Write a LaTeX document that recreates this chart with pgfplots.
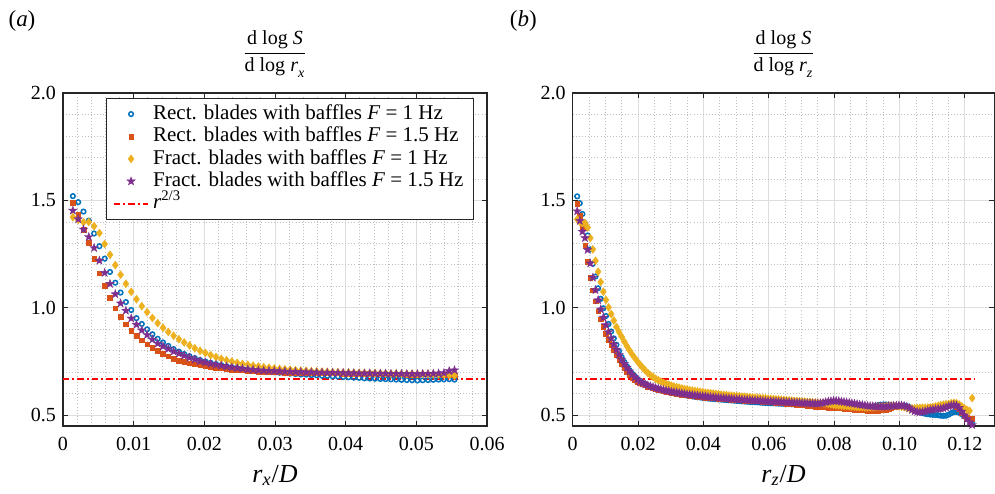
\documentclass[border=0pt]{standalone}
\usepackage{fontspec}
\setmainfont{Liberation Serif}
\usepackage{amsmath}
\usepackage{pgfplots}
\pgfplotsset{compat=1.18}
\usepackage{pgfplotstable}

\definecolor{mblue}{RGB}{0,114,189}
\definecolor{morange}{RGB}{217,83,25}
\definecolor{myellow}{RGB}{237,177,32}
\definecolor{mpurple}{RGB}{126,47,142}
\definecolor{axgray}{RGB}{38,38,38}
\definecolor{gridmaj}{RGB}{222,222,222}
\definecolor{gridmin}{RGB}{190,190,190}

\pgfdeclareplotmark{fstar}{%
  \pgfpathmoveto{\pgfqpointpolar{90}{\pgfplotmarksize}}%
  \pgfpathlineto{\pgfqpointpolar{126}{0.40\pgfplotmarksize}}%
  \pgfpathlineto{\pgfqpointpolar{162}{\pgfplotmarksize}}%
  \pgfpathlineto{\pgfqpointpolar{198}{0.40\pgfplotmarksize}}%
  \pgfpathlineto{\pgfqpointpolar{234}{\pgfplotmarksize}}%
  \pgfpathlineto{\pgfqpointpolar{270}{0.40\pgfplotmarksize}}%
  \pgfpathlineto{\pgfqpointpolar{306}{\pgfplotmarksize}}%
  \pgfpathlineto{\pgfqpointpolar{342}{0.40\pgfplotmarksize}}%
  \pgfpathlineto{\pgfqpointpolar{18}{\pgfplotmarksize}}%
  \pgfpathlineto{\pgfqpointpolar{54}{0.40\pgfplotmarksize}}%
  \pgfpathclose
  \pgfusepathqfillstroke
}

\pgfplotstableread{
x b o y p
0.0014 1.520 1.488 1.422 1.453
0.00215 1.492 1.434 1.409 1.413
0.0029 1.448 1.365 1.398 1.365
0.00365 1.406 1.302 1.400 1.330
0.0044 1.346 1.229 1.380 1.279
0.00515 1.287 1.162 1.348 1.220
0.0059 1.229 1.102 1.297 1.163
0.00665 1.167 1.046 1.247 1.112
0.0074 1.117 0.998 1.199 1.064
0.00815 1.071 0.958 1.154 1.021
0.0089 1.027 0.924 1.112 0.987
0.00965 0.990 0.894 1.075 0.951
0.0104 0.952 0.871 1.040 0.922
0.01115 0.925 0.849 1.008 0.896
0.0119 0.900 0.830 0.980 0.874
0.01265 0.877 0.815 0.953 0.853
0.0134 0.856 0.800 0.929 0.834
0.01415 0.839 0.786 0.907 0.821
0.0149 0.823 0.774 0.888 0.809
0.01565 0.808 0.763 0.870 0.797
0.0164 0.796 0.755 0.854 0.787
0.01715 0.785 0.748 0.839 0.777
0.0179 0.775 0.743 0.825 0.768
0.01865 0.766 0.738 0.812 0.760
0.0194 0.757 0.734 0.800 0.752
0.02015 0.750 0.730 0.790 0.746
0.0209 0.744 0.726 0.780 0.740
0.02165 0.738 0.722 0.771 0.735
0.0224 0.733 0.719 0.763 0.731
0.02315 0.728 0.716 0.756 0.727
0.0239 0.724 0.713 0.750 0.723
0.02465 0.720 0.711 0.744 0.720
0.0254 0.716 0.709 0.739 0.717
0.02615 0.712 0.707 0.735 0.714
0.0269 0.709 0.705 0.731 0.712
0.02765 0.706 0.704 0.727 0.710
0.0284 0.704 0.703 0.724 0.708
0.02915 0.702 0.702 0.721 0.707
0.0299 0.700 0.701 0.718 0.706
0.03065 0.698 0.700 0.716 0.705
0.0314 0.696 0.699 0.714 0.704
0.03215 0.694 0.699 0.712 0.703
0.0329 0.692 0.698 0.710 0.702
0.03365 0.690 0.698 0.708 0.701
0.0344 0.689 0.697 0.707 0.700
0.03515 0.687 0.697 0.705 0.700
0.0359 0.686 0.696 0.704 0.699
0.03665 0.684 0.696 0.703 0.699
0.0374 0.683 0.695 0.702 0.698
0.03815 0.681 0.695 0.701 0.698
0.0389 0.680 0.695 0.700 0.697
0.03965 0.678 0.694 0.699 0.697
0.0404 0.677 0.694 0.699 0.696
0.04115 0.675 0.694 0.698 0.696
0.0419 0.674 0.693 0.697 0.695
0.04265 0.672 0.693 0.697 0.695
0.0434 0.671 0.693 0.696 0.695
0.04415 0.670 0.692 0.696 0.694
0.0449 0.669 0.692 0.695 0.694
0.04565 0.668 0.692 0.695 0.694
0.0464 0.667 0.691 0.694 0.693
0.04715 0.666 0.691 0.694 0.693
0.0479 0.665 0.691 0.693 0.693
0.04865 0.664 0.690 0.693 0.692
0.0494 0.663 0.690 0.693 0.692
0.05015 0.662 0.690 0.692 0.692
0.0509 0.663 0.691 0.692 0.693
0.05165 0.664 0.692 0.692 0.693
0.0524 0.665 0.692 0.691 0.694
0.05315 0.666 0.691 0.691 0.695
0.0539 0.667 0.690 0.690 0.697
0.05465 0.668 0.688 0.688 0.706
0.0554 0.666 0.687 0.685 0.710
}\tabA

\pgfplotstableread{
x b o y p
0.0014 1.519 1.485 1.412 1.450
0.0022 1.487 1.429 1.401 1.405
0.0030 1.437 1.375 1.394 1.355
0.0038 1.392 1.288 1.395 1.325
0.0046 1.337 1.214 1.374 1.270
0.0054 1.272 1.141 1.325 1.207
0.0062 1.205 1.083 1.272 1.141
0.0070 1.146 1.031 1.219 1.083
0.0078 1.091 0.985 1.168 1.036
0.0086 1.042 0.947 1.120 0.993
0.0094 0.998 0.913 1.075 0.955
0.0102 0.962 0.880 1.037 0.920
0.0110 0.925 0.851 1.002 0.888
0.0118 0.890 0.828 0.971 0.858
0.0126 0.858 0.804 0.941 0.830
0.0134 0.828 0.780 0.911 0.806
0.0142 0.798 0.758 0.888 0.782
0.0150 0.771 0.738 0.866 0.760
0.0158 0.748 0.720 0.843 0.740
0.0166 0.728 0.703 0.822 0.722
0.0174 0.710 0.688 0.802 0.705
0.0182 0.694 0.676 0.784 0.690
0.0190 0.681 0.666 0.767 0.677
0.0198 0.669 0.657 0.751 0.666
0.0206 0.659 0.650 0.736 0.657
0.0214 0.651 0.644 0.722 0.650
0.0222 0.644 0.639 0.709 0.644
0.0230 0.638 0.634 0.697 0.639
0.0238 0.633 0.630 0.687 0.635
0.0246 0.628 0.626 0.678 0.631
0.0254 0.624 0.622 0.670 0.627
0.0262 0.620 0.619 0.663 0.624
0.0270 0.617 0.616 0.657 0.621
0.0278 0.614 0.613 0.651 0.618
0.0286 0.611 0.610 0.646 0.615
0.0294 0.608 0.608 0.642 0.613
0.0302 0.605 0.605 0.638 0.610
0.0310 0.603 0.603 0.634 0.608
0.0318 0.600 0.601 0.631 0.606
0.0326 0.598 0.599 0.628 0.604
0.0334 0.596 0.597 0.625 0.602
0.0342 0.594 0.595 0.622 0.600
0.0350 0.592 0.593 0.620 0.598
0.0358 0.590 0.592 0.617 0.596
0.0366 0.588 0.590 0.615 0.595
0.0374 0.586 0.589 0.613 0.593
0.0382 0.584 0.587 0.611 0.592
0.0390 0.583 0.586 0.609 0.590
0.0398 0.581 0.585 0.607 0.589
0.0406 0.580 0.583 0.605 0.588
0.0414 0.578 0.582 0.604 0.586
0.0422 0.577 0.581 0.602 0.585
0.0430 0.576 0.580 0.601 0.584
0.0438 0.575 0.579 0.599 0.583
0.0446 0.574 0.578 0.598 0.582
0.0454 0.573 0.577 0.596 0.581
0.0462 0.572 0.576 0.595 0.580
0.0470 0.571 0.575 0.594 0.579
0.0478 0.570 0.574 0.592 0.578
0.0486 0.569 0.573 0.591 0.577
0.0494 0.568 0.572 0.590 0.576
0.0502 0.567 0.572 0.589 0.575
0.0510 0.566 0.571 0.588 0.574
0.0518 0.565 0.570 0.587 0.573
0.0526 0.564 0.569 0.586 0.572
0.0534 0.563 0.568 0.585 0.572
0.0542 0.562 0.568 0.584 0.571
0.0550 0.561 0.567 0.583 0.570
0.0558 0.561 0.566 0.582 0.569
0.0566 0.560 0.566 0.581 0.569
0.0574 0.559 0.565 0.580 0.568
0.0582 0.558 0.564 0.579 0.567
0.0590 0.557 0.563 0.578 0.566
0.0598 0.557 0.562 0.577 0.566
0.0606 0.556 0.561 0.576 0.565
0.0614 0.556 0.560 0.575 0.564
0.0622 0.555 0.559 0.574 0.564
0.0630 0.554 0.558 0.573 0.563
0.0638 0.554 0.557 0.572 0.562
0.0646 0.553 0.556 0.571 0.562
0.0654 0.553 0.555 0.570 0.561
0.0662 0.552 0.554 0.569 0.561
0.0670 0.551 0.553 0.568 0.560
0.0678 0.551 0.551 0.567 0.559
0.0686 0.550 0.550 0.566 0.559
0.0694 0.549 0.549 0.565 0.558
0.0702 0.548 0.547 0.564 0.557
0.0710 0.548 0.546 0.563 0.557
0.0718 0.547 0.545 0.562 0.556
0.0726 0.546 0.543 0.561 0.556
0.0734 0.545 0.542 0.560 0.555
0.0742 0.544 0.541 0.559 0.555
0.0750 0.543 0.540 0.558 0.555
0.0758 0.542 0.539 0.557 0.556
0.0766 0.541 0.538 0.556 0.558
0.0774 0.541 0.537 0.555 0.561
0.0782 0.540 0.536 0.553 0.564
0.0790 0.540 0.535 0.551 0.566
0.0798 0.540 0.534 0.549 0.567
0.0806 0.541 0.533 0.547 0.567
0.0814 0.542 0.533 0.546 0.566
0.0822 0.542 0.532 0.545 0.564
0.0830 0.541 0.531 0.544 0.562
0.0838 0.540 0.530 0.543 0.560
0.0846 0.538 0.529 0.542 0.558
0.0854 0.536 0.528 0.541 0.556
0.0862 0.535 0.527 0.540 0.554
0.0870 0.534 0.526 0.539 0.552
0.0878 0.533 0.525 0.538 0.550
0.0886 0.533 0.524 0.538 0.548
0.0894 0.534 0.523 0.537 0.546
0.0902 0.536 0.522 0.537 0.544
0.0910 0.538 0.521 0.537 0.543
0.0918 0.541 0.521 0.538 0.542
0.0926 0.544 0.521 0.539 0.541
0.0934 0.547 0.522 0.540 0.541
0.0942 0.549 0.523 0.541 0.541
0.0950 0.550 0.525 0.542 0.541
0.0958 0.550 0.527 0.543 0.541
0.0966 0.549 0.530 0.544 0.542
0.0974 0.547 0.534 0.544 0.543
0.0982 0.545 0.538 0.544 0.544
0.0990 0.544 0.541 0.543 0.545
0.0998 0.544 0.543 0.542 0.546
0.1006 0.545 0.544 0.540 0.546
0.1014 0.545 0.543 0.538 0.544
0.1022 0.543 0.540 0.535 0.540
0.1030 0.538 0.535 0.533 0.533
0.1038 0.532 0.530 0.532 0.525
0.1046 0.525 0.527 0.532 0.519
0.1054 0.519 0.526 0.533 0.516
0.1062 0.514 0.527 0.534 0.515
0.1070 0.510 0.530 0.535 0.516
0.1078 0.507 0.534 0.535 0.519
0.1086 0.505 0.537 0.535 0.522
0.1094 0.503 0.539 0.536 0.525
0.1102 0.502 0.540 0.538 0.527
0.1110 0.501 0.541 0.541 0.529
0.1118 0.500 0.542 0.544 0.530
0.1126 0.498 0.543 0.547 0.531
0.1134 0.497 0.544 0.549 0.533
0.1142 0.498 0.545 0.551 0.537
0.1150 0.503 0.546 0.553 0.542
0.1158 0.510 0.547 0.556 0.546
0.1166 0.515 0.546 0.558 0.548
0.1174 0.516 0.540 0.556 0.546
0.1182 0.512 0.528 0.550 0.535
0.1190 0.505 0.512 0.542 0.518
0.1198 0.495 0.498 0.533 0.500
0.1206 0.485 0.488 0.525 0.483
0.1214 0.478 0.482 0.521 0.468
0.1222 0.470 0.484 0.580 0.455
}\tabB

\pgfplotsset{
  panel/.style={
    scale only axis,
    height=166.5pt,
    ymin=0.45, ymax=2.0,
    ytick={0.5,1,1.5,2}, yticklabels={0.5,1.0,1.5,2.0},
    minor y tick num=4,
    grid=both,
    major grid style={color=gridmaj, line width=0.5pt},
    minor grid style={color=gridmin, line width=0.4pt, dash pattern=on 0.45pt off 1.1pt},
    tick align=inside,
    major tick length=2.5pt, minor tick length=0pt,
    major tick style={color=axgray, line width=0.5pt},
    axis line style={color=axgray, line width=0.6pt},
    tick label style={font=\fontsize{10}{11}\selectfont, text=black},
    xticklabel style={yshift=-2pt},
    scaled x ticks=false, scaled y ticks=false,
    /pgf/number format/assume math mode=true,
    x label style={at={(axis description cs:0.5,0)}, anchor=center, yshift=-24.8pt, font=\fontsize{13}{15}\selectfont},
  },
  redline/.style={color=red, solid, line width=1pt, dash pattern=on 3.2pt off 1.5pt on 1pt off 1.5pt, mark=none},
  sb/.style={only marks, mark=o, draw=mblue, mark size=1.15pt, line width=0.75pt},
  so/.style={only marks, mark=square*, draw=morange, fill=morange, mark size=1.15pt, line width=0.2pt},
  sy/.style={only marks, mark=diamond*, draw=myellow, fill=myellow, mark size=2.0pt, line width=0.2pt},
  sp/.style={only marks, mark=fstar, draw=mpurple, fill=mpurple, mark size=2.2pt, line width=0.2pt},
}

\begin{document}
\begin{tikzpicture}
\begin{axis}[panel, name=A, at={(0,0)}, anchor=south west,
  width=212pt,
  xmin=0, xmax=0.06,
  xtick={0,0.01,0.02,0.03,0.04,0.05,0.06},
  xticklabels={0,0.01,0.02,0.03,0.04,0.05,0.06},
  minor x tick num=4,
  xlabel={\textit{r}\textsubscript{\textit{x}}/\textit{D}},
  legend cell align=left,
  legend style={at={(0.969,0.985)}, anchor=north east, draw=axgray, line width=0.5pt,
    fill=white, font=\fontsize{10.5}{12}\selectfont, row sep=-0.4pt, inner xsep=3pt, inner ysep=2pt,
    nodes={inner ysep=0.8pt, text height=7.6pt, text depth=2.4pt}},
]
\addplot[redline, forget plot] coordinates {(0,0.6667) (0.0597,0.6667)};
\addplot[sb] table[x=x,y=b]{\tabA};
\addlegendentry{Rect. blades with baffles \textit{F} = 1 Hz}
\addplot[so] table[x=x,y=o]{\tabA};
\addlegendentry{Rect. blades with baffles \textit{F} = 1.5 Hz}
\addplot[sy] table[x=x,y=y]{\tabA};
\addlegendentry{Fract. blades with baffles \textit{F} = 1 Hz}
\addplot[sp] table[x=x,y=p]{\tabA};
\addlegendentry{Fract. blades with baffles \textit{F} = 1.5 Hz}
\addlegendimage{redline}
\addlegendentry{\textit{r}\textsuperscript{2/3}}
\end{axis}

\begin{axis}[panel, name=B, at={(254.8pt,0)}, anchor=south west,
  width=210.9pt,
  xmin=0, xmax=0.129,
  xtick={0,0.02,0.04,0.06,0.08,0.10,0.12},
  xticklabels={0,0.02,0.04,0.06,0.08,0.10,0.12},
  minor x tick num=3,
  xlabel={\textit{r}\textsubscript{\textit{z}}/\textit{D}},
]
\addplot[redline] coordinates {(0.001,0.6667) (0.123,0.6667)};
\addplot[sb] table[x=x,y=b]{\tabB};
\addplot[so] table[x=x,y=o]{\tabB};
\addplot[sy] table[x=x,y=y]{\tabB};
\addplot[sp] table[x=x,y=p]{\tabB};
\end{axis}

\node[anchor=center, inner sep=0pt, font=\fontsize{10}{11}\selectfont] at ([yshift=19.5pt]A.north)
  {$\displaystyle\frac{\text{d log \textit{S}}}{\text{d log \textit{r}}_{\text{\itshape x}}}$};
\node[anchor=center, inner sep=0pt, font=\fontsize{10}{11}\selectfont] at ([yshift=19.5pt]B.north)
  {$\displaystyle\frac{\text{d log \textit{S}}}{\text{d log \textit{r}}_{\text{\itshape z}}}$};
\node[anchor=center, inner sep=0pt, font=\fontsize{11.5}{13}\selectfont] at ([xshift=-20.5pt,yshift=35.8pt]A.north west) {(\textit{a})};
\node[anchor=center, inner sep=0pt, font=\fontsize{11.5}{13}\selectfont] at ([xshift=-24.6pt,yshift=35.8pt]B.north west) {(\textit{b})};

\pgfresetboundingbox
\useasboundingbox (-31.5pt,-33.5pt) rectangle (466pt,213pt);
\end{tikzpicture}
\end{document}
